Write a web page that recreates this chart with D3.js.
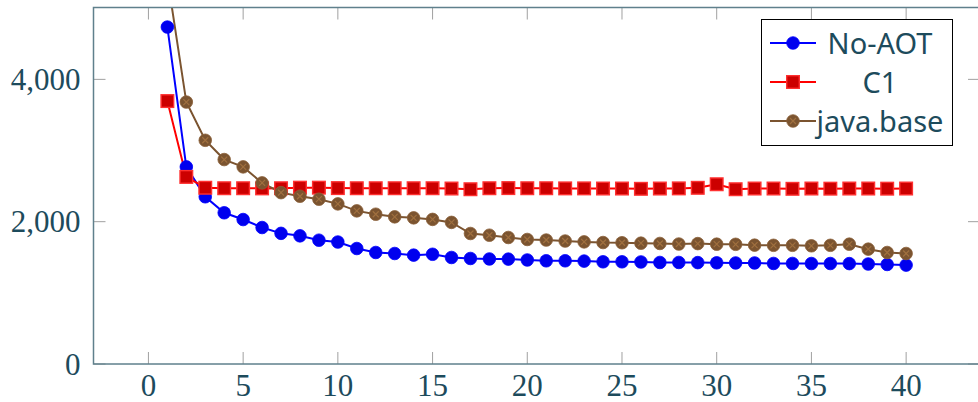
<!DOCTYPE html>
<html>
<head>
<meta charset="utf-8">
<script src="https://cdn.jsdelivr.net/npm/d3@7"></script>
<style>
  body { margin: 0; background: #fff; }
  svg { display: block; }
</style>
</head>
<body>
<div id="chart"></div>
<script>
// data
var runs = d3.range(1, 41);
var noAot = [4735, 2770, 2350, 2125, 2030, 1918, 1836, 1801, 1740, 1714,
             1623, 1567, 1553, 1530, 1542, 1497, 1483, 1476, 1474, 1462,
             1450, 1450, 1446, 1436, 1436, 1434, 1427, 1427, 1425, 1422,
             1420, 1420, 1413, 1413, 1412, 1412, 1411, 1405, 1399, 1390];
var c1 = [3695, 2629, 2477, 2470, 2470, 2468, 2470, 2478, 2478, 2472,
          2470, 2470, 2470, 2470, 2470, 2466, 2456, 2470, 2472, 2470,
          2470, 2468, 2468, 2466, 2466, 2462, 2466, 2468, 2476, 2526,
          2456, 2466, 2466, 2462, 2466, 2464, 2466, 2466, 2464, 2466];
var javaBase = [5430, 3681, 3144, 2873, 2770, 2545, 2408, 2358, 2316, 2250,
                2152, 2105, 2068, 2054, 2032, 1990, 1834, 1810, 1778, 1750,
                1742, 1728, 1716, 1707, 1704, 1698, 1694, 1686, 1692, 1684,
                1682, 1670, 1668, 1668, 1661, 1668, 1684, 1614, 1567, 1553];
var xTicks = [0, 5, 10, 15, 20, 25, 30, 35, 40];
var yTicks = [0, 2000, 4000];

var series = [
  { name: "No-AOT", values: noAot, color: "#0000ff", mark: "circle" },
  { name: "C1", values: c1, color: "#ff0000", mark: "square" },
  { name: "java.base", values: javaBase, color: "#7b5430", mark: "otimes" }
];

var W = 978, H = 402;
var margin = { top: 7.5, right: -2, bottom: 38, left: 93.5 },
    width = W - margin.left - margin.right,
    height = H - margin.top - margin.bottom;

var svg = d3.select("#chart").append("svg")
    .attr("width", W).attr("height", H)
    .style("font-family", "'Liberation Serif', serif");

var g = svg.append("g")
    .attr("transform", "translate(" + margin.left + "," + margin.top + ")");

var x = d3.scaleLinear().domain([-2.9, 43.9]).range([0, width]);
var y = d3.scaleLinear().domain([0, 5010]).range([height, 0]);

g.append("clipPath").attr("id", "plotclip")
  .append("rect").attr("width", width).attr("height", height);

// ticks (inside, mirrored)
var tickCol = "#a0a0a0", tickLen = 12;
xTicks.forEach(function (t) {
  g.append("line").attr("x1", x(t)).attr("x2", x(t)).attr("y1", height).attr("y2", height - tickLen)
    .attr("stroke", tickCol).attr("stroke-width", 1);
  g.append("line").attr("x1", x(t)).attr("x2", x(t)).attr("y1", 0).attr("y2", tickLen)
    .attr("stroke", tickCol).attr("stroke-width", 1);
});
yTicks.forEach(function (t) {
  g.append("line").attr("x1", 0).attr("x2", tickLen).attr("y1", y(t)).attr("y2", y(t))
    .attr("stroke", tickCol).attr("stroke-width", 1);
  g.append("line").attr("x1", width).attr("x2", width - tickLen).attr("y1", y(t)).attr("y2", y(t))
    .attr("stroke", tickCol).attr("stroke-width", 1);
});

// tick labels
var labCol = "#1d4b5c";
var fmt = d3.format(",");
g.selectAll(".xl").data(xTicks).enter().append("text")
  .attr("x", function (d) { return x(d); })
  .attr("y", height + 32)
  .attr("text-anchor", "middle")
  .attr("fill", labCol).attr("font-size", 31)
  .text(function (d) { return d; });
g.selectAll(".yl").data(yTicks).enter().append("text")
  .attr("x", -13)
  .attr("y", function (d) { return y(d) + 10.5; })
  .attr("text-anchor", "end")
  .attr("fill", labCol).attr("font-size", 31)
  .text(function (d) { return fmt(d); });

// lines and markers
var plot = g.append("g").attr("clip-path", "url(#plotclip)");
var line = d3.line()
  .x(function (d, i) { return x(runs[i]); })
  .y(function (d) { return y(d); });

function drawMark(sel, s, cx, cy) {
  if (s.mark === "circle") {
    sel.append("circle").attr("cx", cx).attr("cy", cy).attr("r", 6.3)
      .attr("fill", "#0000ee").attr("stroke", "#0000ff").attr("stroke-width", 0.8);
  } else if (s.mark === "square") {
    sel.append("rect").attr("x", cx - 6.3).attr("y", cy - 6.3).attr("width", 12.6).attr("height", 12.6)
      .attr("fill", "#cc0000").attr("stroke", "#ff3030").attr("stroke-width", 1.4);
  } else {
    sel.append("circle").attr("cx", cx).attr("cy", cy).attr("r", 6.3)
      .attr("fill", "#7b5430").attr("stroke", "#8a6038").attr("stroke-width", 0.8);
    var d = 3;
    sel.append("path")
      .attr("d", "M" + (cx - d) + "," + (cy - d) + "L" + (cx + d) + "," + (cy + d) +
                 "M" + (cx - d) + "," + (cy + d) + "L" + (cx + d) + "," + (cy - d))
      .attr("stroke", "#a0703f").attr("stroke-width", 1.2);
  }
}

series.forEach(function (s) {
  plot.append("path").datum(s.values)
    .attr("d", line)
    .attr("fill", "none")
    .attr("stroke", s.color)
    .attr("stroke-width", 2);
});
series.forEach(function (s) {
  var mg = plot.append("g");
  s.values.forEach(function (v, i) { drawMark(mg, s, x(runs[i]), y(v)); });
});

// frame
g.append("rect").attr("width", width).attr("height", height)
  .attr("fill", "none").attr("stroke", "#5f808c").attr("stroke-width", 1.5);

// legend
var lg = svg.append("g");
lg.append("rect").attr("x", 761.5).attr("y", 19.5).attr("width", 191).attr("height", 126)
  .attr("fill", "#fff").attr("stroke", "#000").attr("stroke-width", 1);
var rowY = [43, 82, 121];
series.forEach(function (s, i) {
  lg.append("line").attr("x1", 770).attr("x2", 816).attr("y1", rowY[i]).attr("y2", rowY[i])
    .attr("stroke", s.color).attr("stroke-width", 2);
  drawMark(lg, s, 793, rowY[i]);
  lg.append("text").attr("x", 880).attr("y", rowY[i] + 10.5)
    .attr("text-anchor", "middle")
    .attr("font-family", "'Noto Sans', sans-serif")
    .attr("font-size", 29)
    .attr("fill", labCol)
    .text(s.name);
});
</script>
</body>
</html>
